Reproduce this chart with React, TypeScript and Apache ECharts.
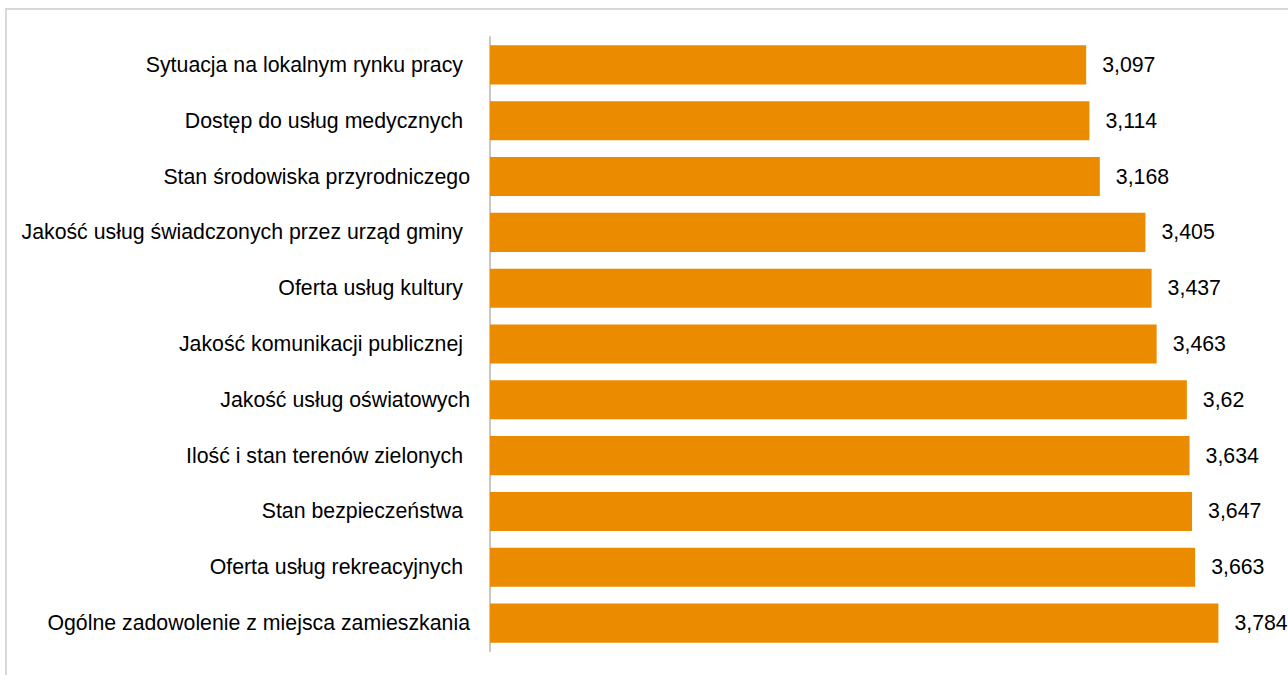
import React, { useEffect, useRef } from "react";
import * as echarts from "echarts";

const categories = [
  "Sytuacja na lokalnym rynku pracy",
  "Dostęp do usług medycznych",
  "Stan środowiska przyrodniczego",
  "Jakość usług świadczonych przez urząd gminy",
  "Oferta usług kultury",
  "Jakość komunikacji publicznej",
  "Jakość usług oświatowych",
  "Ilość i stan terenów zielonych",
  "Stan bezpieczeństwa",
  "Oferta usług rekreacyjnych",
  "Ogólne zadowolenie z miejsca zamieszkania",
];
const trailingSpace = [true, true, false, true, true, true, false, true, true, true, false];
const values = [3.097, 3.114, 3.168, 3.405, 3.437, 3.463, 3.62, 3.634, 3.647, 3.663, 3.784];

export default function App() {
  const ref = useRef<HTMLDivElement>(null);
  useEffect(() => {
    document.body.style.margin = "0";
    const chart = echarts.init(ref.current!, null, { renderer: "svg" });
    chart.setOption({
      animation: false,
      backgroundColor: "#ffffff",
      textStyle: { fontFamily: "Liberation Sans, Arial, sans-serif" },
      graphic: [
        {
          type: "rect",
          shape: { x: 6, y: 9, width: 1400, height: 800 },
          style: { fill: "none", stroke: "#d9d9d9", lineWidth: 2 },
          silent: true,
        },
      ],
      grid: { left: 490, right: 28, top: 37, bottom: 24, containLabel: false },
      xAxis: { type: "value", min: 0, max: 4, show: false },
      yAxis: {
        type: "category",
        inverse: true,
        data: categories.map((c, i) => ({
          value: c,
          textStyle: { padding: [0, trailingSpace[i] ? 7 : 0, 0, 0] },
        })),
        axisTick: { show: false },
        axisLine: { show: true, lineStyle: { color: "#c8c8c8", width: 2 } },
        axisLabel: { color: "#000000", fontSize: 21.3, margin: 20, fontFamily: "Liberation Sans, Arial, sans-serif" },
        splitLine: { show: false },
      },
      series: [
        {
          type: "bar",
          data: values,
          barCategoryGap: "30%",
          itemStyle: { color: "#EB8C00" },
          label: {
            show: true,
            position: "right",
            distance: 16,
            color: "#000000",
            fontSize: 21.3,
            fontFamily: "Liberation Sans, Arial, sans-serif",
            formatter: (p: any) => String(p.value).replace(".", ","),
          },
        },
      ],
    });
    return () => chart.dispose();
  }, []);
  return <div ref={ref} style={{ width: 1288, height: 675 }} />;
}
